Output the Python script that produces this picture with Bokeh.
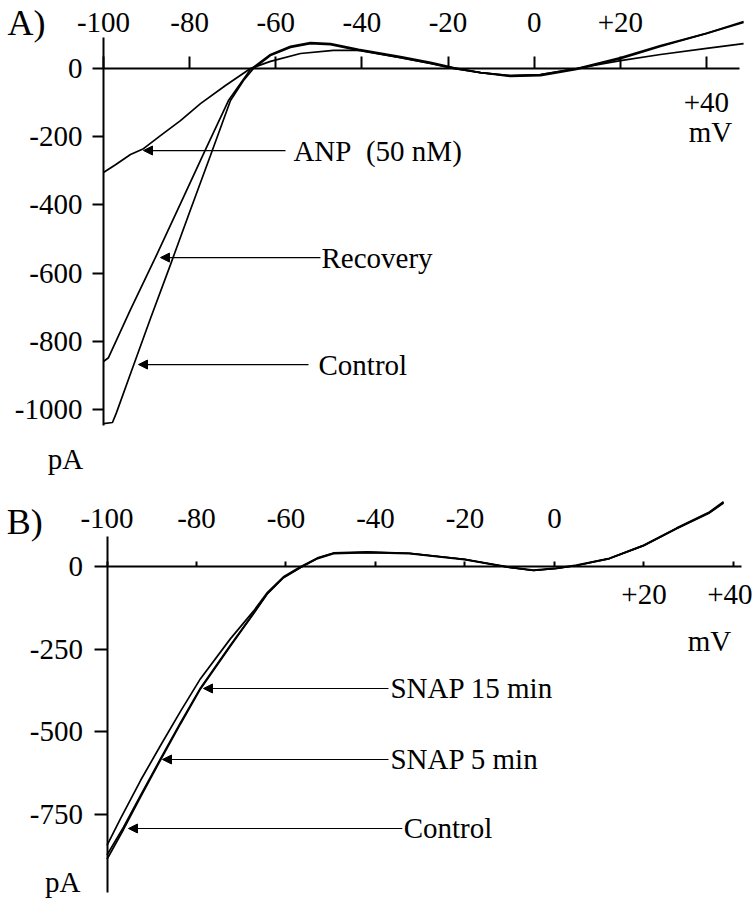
from bokeh.plotting import figure
from bokeh.layouts import column
from bokeh.models import Range1d, FixedTicker, LinearAxis, Label, Arrow, NormalHead
from bokeh.embed import file_html
from bokeh.resources import INLINE

FONT = "Liberation Serif"
FS = "29px"

# ---------------- Panel A data (mV, pA) ----------------
a_ctrl_mv = [-100, -97.91, -96.98, -93.73, -89.09, -84.44, -79.80, -75.16, -70.51, -67.49, -65.17,
             -61.23, -56.58, -51.94, -47.29, -40.79, -31.04, -24.07, -18.73, -12.46, -5.50, 1.47,
             9.84, 20.06, 29.34, 40.03, 48.62]
a_ctrl_pa = [-1041, -1038, -1009, -895, -733, -575, -414, -255, -94, -35, 0,
             38, 62, 73, 70, 53, 32, 15, 0, -12, -21, -18,
             0, 32, 67, 103, 135]

a_rec_mv = [-100, -98.84, -93.73, -87.93, -82.12, -76.32, -70.98, -68.19, -65.87,
            -61.23, -56.58, -51.94, -47.29, -40.79, -31.04, -24.07, -18.73, -12.46, -5.50, 1.47,
            9.84, 20.06, 29.34, 40.03, 48.62]
a_rec_pa = [-859, -848, -707, -554, -396, -238, -94, -44, -3,
            41, 65, 76, 73, 56, 35, 18, 3, -12, -23, -21,
            -3, 29, 65, 103, 138]

a_anp_mv = [-100, -97.21, -93.73, -90.71, -86.77, -82.12, -77.48, -71.67, -65.87, -61.23, -54.26,
            -46.60, -40.33, -31.04, -24.07, -18.73, -12.46, -5.50, 1.47, 9.84, 20.06, 29.34,
            40.03, 48.62]
a_anp_pa = [-305, -282, -252, -235, -197, -153, -103, -50, 0, 21, 44,
            53, 53, 32, 15, 0, -12, -21, -18, 0, 23, 41,
            59, 73]

a_xticks = [-100, -80, -60, -40, -20, 0, 20, 40]
a_xtick_labels_top = ["-100", "-80", "-60", "-40", "-20", "0", "+20", ""]
a_xticks_bottom = [40]
a_xtick_labels_bottom = ["+40"]
a_yticks = [0, -200, -400, -600, -800, -1000]
a_ytick_labels = ["0", "-200", "-400", "-600", "-800", "-1000"]

# ---------------- Panel B data (mV, pA) ----------------
b_common_mv = [-72.40, -67.26, -64.13, -60.56, -56.76, -52.96, -49.39, -41.79, -32.40, -20.11,
               -10.06, -4.69, 0.45, 4.92, 12.29, 19.89, 27.26, 34.64, 37.77]
b_ctrl_mv = [-100, -96.31, -92.51, -88.04, -83.58, -79.11] + b_common_mv
b_ctrl_pa = [-885, -795, -697, -585, -476, -370, -240, -143, -82, -34, -3, 24, 39, 42, 39, 21,
             -3, -12, -6, 3, 24, 63, 114, 162, 192]
b_s5_mv = [-100, -96.31, -92.51, -88.04, -83.58, -79.11] + b_common_mv
b_s5_pa = [-872, -788, -692, -581, -472, -367, -237, -141, -81, -33, -3, 25, 40, 43, 40, 22,
           -2, -11, -5, 4, 25, 64, 116, 165, 196]
b_s15_mv = [-100, -96.98, -92.51, -88.04, -83.58, -79.11] + b_common_mv
b_s15_pa = [-843, -762, -647, -541, -438, -339, -218, -135, -78, -31, -1, 26, 41, 44, 40, 22,
            -3, -12, -6, 3, 24, 63, 115, 163, 194]

b_xticks = [-100, -80, -60, -40, -20, 0, 20, 40]
b_xtick_labels_top = ["-100", "-80", "-60", "-40", "-20", "0", "", ""]
b_xticks_bottom = [20, 40]
b_xtick_labels_bottom = ["+20", "+40"]
b_yticks = [0, -250, -500, -750]
b_ytick_labels = ["0", "-250", "-500", "-750"]


def style_axis(ax, ticks, labels, tick_out, standoff, loc, bounds=None, line=True):
    ax.ticker = FixedTicker(ticks=ticks)
    ax.major_label_overrides = {t: l for t, l in zip(ticks, labels)}
    ax.fixed_location = loc
    if bounds is not None:
        ax.bounds = bounds
    ax.major_tick_out = tick_out
    ax.major_tick_in = 0
    ax.minor_tick_out = 0
    ax.minor_tick_in = 0
    ax.axis_line_width = 2
    ax.major_tick_line_width = 2
    ax.axis_line_color = "black" if line else None
    ax.major_tick_line_color = "black" if line else None
    ax.major_label_text_font = FONT
    ax.major_label_text_font_size = FS
    ax.major_label_text_color = "black"
    ax.major_label_standoff = standoff


def base_fig(h, xr, yr):
    p = figure(width=752, height=h, x_range=Range1d(*xr), y_range=Range1d(*yr),
               output_backend="svg", toolbar_location=None,
               x_axis_location="above", y_axis_location="left", min_border=0)
    p.outline_line_color = None
    p.xgrid.visible = False
    p.ygrid.visible = False
    p.background_fill_color = "white"
    p.border_fill_color = "white"
    return p


def txt(p, x, y, s, align="left", size=FS):
    p.add_layout(Label(x=x, y=y, text=s, text_font=FONT, text_font_size=size,
                       text_color="black", text_align=align, text_baseline="middle"))


def arrow(p, xs, xe, y):
    p.add_layout(Arrow(x_start=xs, y_start=y, x_end=xe, y_end=y, line_width=1.2,
                       line_color="black",
                       end=NormalHead(size=9, fill_color="black", line_color="black", line_width=1)))


CURVE_W = 1.7

# ---------------- Figure A ----------------
pa = base_fig(480, (-123.91, 50.69), (-1208, 199.4))
style_axis(pa.xaxis[0], a_xticks, a_xtick_labels_top, 12, 25, 0, bounds=(-100, 47.7))
style_axis(pa.yaxis[0], a_yticks, a_ytick_labels, 11, 10, -100, bounds=(-1047, 91))
ax_a2 = LinearAxis()
style_axis(ax_a2, a_xticks_bottom, a_xtick_labels_bottom, 0, 24, 0, line=False)
pa.add_layout(ax_a2, "below")

pa.line(a_anp_mv, a_anp_pa, line_color="black", line_width=CURVE_W)
pa.line(a_rec_mv, a_rec_pa, line_color="black", line_width=CURVE_W)
pa.line(a_ctrl_mv, a_ctrl_pa, line_color="black", line_width=CURVE_W)

txt(pa, -117.9, 132, "A)", align="center", size="36px")
txt(pa, -108.8, -1144, "pA", align="center")
txt(pa, 40.93, -185, "mV", align="center")

arrow(pa, -57.74, -90.71, -240.5)
txt(pa, -55.9, -240.5, "ANP\u00a0 (50 nM)")
arrow(pa, -49.62, -86.77, -554.3)
txt(pa, -49.38, -554.3, "Recovery")
arrow(pa, -52.4, -91.87, -868)
txt(pa, -50.08, -868, "Control")

# ---------------- Figure B ----------------
pb = base_fig(420, (-123.80, 44.25), (-1009.7, 260))
style_axis(pb.xaxis[0], b_xticks, b_xtick_labels_top, 5, 34, 0, bounds=(-100, 41.8))
style_axis(pb.yaxis[0], b_yticks, b_ytick_labels, 13, 11, -100, bounds=(-985, 90.7))
ax_b2 = LinearAxis()
style_axis(ax_b2, b_xticks_bottom, b_xtick_labels_bottom, 0, 18, 0, line=False)
pb.add_layout(ax_b2, "below")

pb.line(b_ctrl_mv, b_ctrl_pa, line_color="black", line_width=CURVE_W)
pb.line(b_s5_mv, b_s5_pa, line_color="black", line_width=CURVE_W)
pb.line(b_s15_mv, b_s15_pa, line_color="black", line_width=CURVE_W)

txt(pb, -118.4, 136, "B)", align="center", size="36px")
txt(pb, -109.9, -955, "pA", align="center")
txt(pb, 34.63, -226.7, "mV", align="center")

arrow(pb, -37.10, -78.44, -368.8)
txt(pb, -36.65, -368.8, "SNAP 15 min")
arrow(pb, -37.10, -87.6, -583.4)
txt(pb, -36.65, -583.4, "SNAP 5 min")
arrow(pb, -34.0, -95.2, -792)
txt(pb, -33.7, -792, "Control")

layout = column(pa, pb)
open("out.html", "w").write(file_html(layout, INLINE))
